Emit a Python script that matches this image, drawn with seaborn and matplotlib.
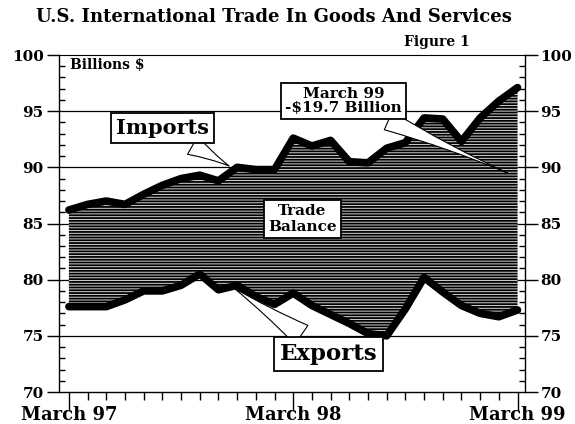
import numpy as np
import pandas as pd
import seaborn as sns
import matplotlib.pyplot as plt
from matplotlib.ticker import MultipleLocator, FixedLocator

# monthly data, March 97 .. March 99 (billions of dollars)
months = list(range(25))
imports = [86.2, 86.7, 87.0, 86.7, 87.6, 88.4, 89.0, 89.3, 88.8, 90.0, 89.8, 89.8,
           92.6, 91.9, 92.4, 90.5, 90.4, 91.7, 92.2, 94.4, 94.3, 92.3, 94.4, 95.9, 97.1]
exports = [77.6, 77.6, 77.6, 78.2, 79.0, 79.0, 79.5, 80.5, 79.1, 79.5, 78.5, 77.8,
           78.8, 77.7, 76.9, 76.1, 75.2, 75.0, 77.4, 80.2, 78.9, 77.7, 77.0, 76.7, 77.3]
x_tick_pos = [0, 12, 24]
x_tick_labels = ['March 97', 'March 98', 'March 99']

df = pd.DataFrame({'month': months, 'imports': imports, 'exports': exports})

sns.set_style('white')
plt.rcParams['font.family'] = ['DejaVu Serif']
plt.rcParams['font.weight'] = 'bold'
plt.rcParams['text.color'] = 'black'
plt.rcParams['xtick.color'] = 'black'
plt.rcParams['ytick.color'] = 'black'
plt.rcParams['hatch.linewidth'] = 1.3

fig = plt.figure(figsize=(5.75, 4.24), dpi=100)
ax = fig.add_axes([59/575, 1-392/424, (525-59)/575, (392-55)/424])

for g in [75, 80, 85, 90, 95]:
    ax.axhline(g, color='black', lw=0.9, zorder=0.5)

ax.fill_between(df['month'], df['exports'], df['imports'], facecolor='#d4d4d4',
                edgecolor='black', hatch='------', lw=0, zorder=1)
sns.lineplot(data=df, x='month', y='imports', color='black', lw=5.5, ax=ax, zorder=3)
sns.lineplot(data=df, x='month', y='exports', color='black', lw=5.5, ax=ax, zorder=3)

ax.set_xlim(-0.53, 24.4)
ax.set_ylim(70, 100)
ax.set_xlabel('')
ax.set_ylabel('')

ax.yaxis.set_major_locator(MultipleLocator(5))
ax.yaxis.set_minor_locator(MultipleLocator(1))
ax.tick_params(axis='y', which='major', direction='out', length=9, width=1,
               left=True, right=True, labelleft=True, labelright=True,
               labelsize=11, pad=2)
ax.tick_params(axis='y', which='minor', direction='in', length=4, width=1,
               left=True, right=True)

ax.xaxis.set_major_locator(FixedLocator(x_tick_pos))
ax.xaxis.set_minor_locator(MultipleLocator(1))
ax.set_xticklabels(x_tick_labels)
ax.tick_params(axis='x', which='major', direction='out', length=14, width=1,
               bottom=True, labelsize=13, pad=-4)
ax.tick_params(axis='x', which='minor', direction='out', length=6, width=1, bottom=True)

for s in ax.spines.values():
    s.set_color('black')
    s.set_linewidth(1)
ax.spines['top'].set_linewidth(0.8)

box = dict(boxstyle='square,pad=0.25', fc='white', ec='black', lw=1.3)
wedge = dict(arrowstyle='wedge,tail_width=1.0,shrink_factor=0.4', fc='white', ec='black', lw=0.8)

ax.text(0.05, 99.1, 'Billions $', fontsize=10, ha='left', va='center', zorder=5)

ax.annotate('Imports', xy=(8.7, 90.0), xytext=(5.0, 93.5), fontsize=15,
            ha='center', va='center', bbox=box, arrowprops=wedge, zorder=6)
ax.annotate('Exports', xy=(8.7, 79.4), xytext=(13.9, 73.4), fontsize=16.5,
            ha='center', va='center', bbox=box, arrowprops=wedge, zorder=6)
ax.annotate('March 99\n-$19.7 Billion', xy=(23.6, 89.4), xytext=(14.7, 95.9),
            fontsize=11, ha='center', va='center', linespacing=1.0,
            bbox=box, arrowprops=dict(arrowstyle='wedge,tail_width=1.3,shrink_factor=0.3',
                                      fc='white', ec='black', lw=0.8), zorder=6)
ax.text(12.5, 85.4, 'Trade\nBalance', fontsize=11, ha='center', va='center',
        linespacing=1.1, bbox=dict(boxstyle='square,pad=0.3', fc='white', ec='black', lw=1.3),
        zorder=6)

fig.text(274/575, 1-17/424, 'U.S. International Trade In Goods And Services',
         fontsize=13, ha='center', va='center')
fig.text(437/575, 1-42/424, 'Figure 1', fontsize=10, ha='center', va='center')

plt.savefig('out.png', dpi=100)
